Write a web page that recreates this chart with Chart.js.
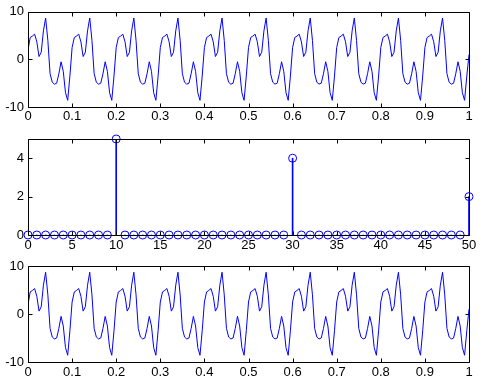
<!DOCTYPE html>
<html>
<head>
<meta charset="utf-8">
<script src="https://cdn.jsdelivr.net/npm/chart.js@4"></script>
<style>
  html, body { margin: 0; padding: 0; background: #fff; }
  body { width: 486px; height: 385px; position: relative; overflow: hidden; }
  canvas { position: absolute; left: 0; }
</style>
</head>
<body>
<canvas id="sig" width="486" height="125" style="top:0px"></canvas>
<canvas id="spec" width="486" height="130" style="top:125px"></canvas>
<canvas id="rec" width="486" height="135" style="top:250px"></canvas>
<script>
// tick labels
const timeTicks = [0, 0.1, 0.2, 0.3, 0.4, 0.5, 0.6, 0.7, 0.8, 0.9, 1];
const ampTicks = [-10, 0, 10];
const freqTicks = [0, 5, 10, 15, 20, 25, 30, 35, 40, 45, 50];
const magTicks = [0, 2, 4];

const signal = [
  2.0, 4.6, 4.9, 5.3, 3.7, 0.6, 1.5, 6.0, 8.7, 4.0, -3.0, -4.8, -5.2, -5.0, -3.0, -0.5, -2.5, -7.0, -8.6, -3.5,
  2.5, 4.6, 4.9, 5.3, 3.7, 0.6, 1.5, 6.0, 8.7, 4.0, -3.0, -4.8, -5.2, -5.0, -3.0, -0.5, -2.5, -7.0, -8.6, -3.5,
  2.5, 4.6, 4.9, 5.3, 3.7, 0.6, 1.5, 6.0, 8.7, 4.0, -3.0, -4.8, -5.2, -5.0, -3.0, -0.5, -2.5, -7.0, -8.6, -3.5,
  2.5, 4.6, 4.9, 5.3, 3.7, 0.6, 1.5, 6.0, 8.7, 4.0, -3.0, -4.8, -5.2, -5.0, -3.0, -0.5, -2.5, -7.0, -8.6, -3.5,
  2.5, 4.6, 4.9, 5.3, 3.7, 0.6, 1.5, 6.0, 8.7, 4.0, -3.0, -4.8, -5.2, -5.0, -3.0, -0.5, -2.5, -7.0, -8.6, -3.5,
  2.5, 4.6, 4.9, 5.3, 3.7, 0.6, 1.5, 6.0, 8.7, 4.0, -3.0, -4.8, -5.2, -5.0, -3.0, -0.5, -2.5, -7.0, -8.6, -3.5,
  2.5, 4.6, 4.9, 5.3, 3.7, 0.6, 1.5, 6.0, 8.7, 4.0, -3.0, -4.8, -5.2, -5.0, -3.0, -0.5, -2.5, -7.0, -8.6, -3.5,
  2.5, 4.6, 4.9, 5.3, 3.7, 0.6, 1.5, 6.0, 8.7, 4.0, -3.0, -4.8, -5.2, -5.0, -3.0, -0.5, -2.5, -7.0, -8.6, -3.5,
  2.5, 4.6, 4.9, 5.3, 3.7, 0.6, 1.5, 6.0, 8.7, 4.0, -3.0, -4.8, -5.2, -5.0, -3.0, -0.5, -2.5, -7.0, -8.6, -3.5,
  2.5, 4.6, 4.9, 5.3, 3.7, 0.6, 1.5, 6.0, 8.7, 4.0, -3.0, -4.8, -5.2, -5.0, -3.0, -0.5, -2.5, -7.0, -8.6, -3.5,
  1.0
];
const recovered = signal; // bottom plot looks identical to the top one

const freqs = [
  0, 1, 2, 3, 4, 5, 6, 7, 8, 9, 10, 11, 12, 13, 14, 15, 16, 17, 18, 19, 20, 21, 22, 23, 24, 25,
  26, 27, 28, 29, 30, 31, 32, 33, 34, 35, 36, 37, 38, 39, 40, 41, 42, 43, 44, 45, 46, 47, 48, 49, 50
];
const mags = [
  0, 0, 0, 0, 0, 0, 0, 0, 0, 0, 5, 0, 0, 0, 0, 0, 0, 0, 0, 0, 0, 0, 0, 0, 0, 0,
  0, 0, 0, 0, 4, 0, 0, 0, 0, 0, 0, 0, 0, 0, 0, 0, 0, 0, 0, 0, 0, 0, 0, 0, 2
];

const times = signal.map((_, i) => i / 200);

Chart.defaults.font.family = '"Liberation Sans", Arial, sans-serif';
Chart.defaults.font.size = 13;
Chart.defaults.color = '#000';

// box round the plot area with inward ticks on every side
const matlabBox = {
  id: 'matlabBox',
  afterDraw(chart) {
    const { ctx, chartArea: a, scales } = chart;
    const L = Math.round(a.left) + 0.5, R = Math.round(a.right) + 0.5;
    const T = Math.round(a.top) + 0.5, B = Math.round(a.bottom) + 0.5;
    ctx.save();
    ctx.strokeStyle = '#000';
    ctx.lineWidth = 1;
    ctx.beginPath();
    ctx.rect(L, T, R - L, B - T);
    scales.x.ticks.forEach(t => {
      const px = Math.round(scales.x.getPixelForValue(t.value)) + 0.5;
      ctx.moveTo(px, B); ctx.lineTo(px, B - 4);
      ctx.moveTo(px, T); ctx.lineTo(px, T + 4);
    });
    scales.y.ticks.forEach(t => {
      const py = Math.round(scales.y.getPixelForValue(t.value)) + 0.5;
      ctx.moveTo(L, py); ctx.lineTo(L + 4, py);
      ctx.moveTo(R, py); ctx.lineTo(R - 4, py);
    });
    ctx.stroke();
    ctx.restore();
  }
};

function makeScales(xMin, xMax, xTicks, yMin, yMax, yTicks, xHeight, xPad) {
  return {
    x: {
      type: 'linear', min: xMin, max: xMax, offset: false,
      grid: { display: false, drawTicks: false }, border: { display: false },
      ticks: { padding: xPad, maxRotation: 0, autoSkip: false, callback: v => String(v) },
      afterBuildTicks: s => { s.ticks = xTicks.map(v => ({ value: v })); },
      afterFit: s => { s.height = xHeight; }
    },
    y: {
      type: 'linear', min: yMin, max: yMax,
      grid: { display: false, drawTicks: false }, border: { display: false },
      ticks: { padding: 4, autoSkip: false, callback: v => String(v) },
      afterBuildTicks: s => { s.ticks = yTicks.map(v => ({ value: v })); },
      afterFit: s => { s.width = 28; }
    }
  };
}

function baseOptions(top, scales) {
  return {
    responsive: false,
    animation: false,
    layout: { padding: { top: top, right: 17, left: 0, bottom: 0 } },
    plugins: { legend: { display: false }, tooltip: { enabled: false } },
    scales: scales
  };
}

function wavePlot(id, values, top, xHeight, xPad) {
  new Chart(document.getElementById(id), {
    type: 'line',
    data: {
      datasets: [{
        data: times.map((t, i) => ({ x: t, y: values[i] })),
        borderColor: '#0000ff',
        borderWidth: 1,
        pointRadius: 0,
        tension: 0
      }]
    },
    options: baseOptions(top, makeScales(0, 1, timeTicks, -10, 10, ampTicks, xHeight, xPad)),
    plugins: [matlabBox]
  });
}

wavePlot('sig', signal, 11, 18, 2);

const stemPoints = freqs.map((f, i) => ({ x: f, y: mags[i] }));
new Chart(document.getElementById('spec'), {
  type: 'bar',
  data: {
    datasets: [
      {
        type: 'line',
        data: stemPoints,
        showLine: false,
        pointRadius: 4,
        pointBorderWidth: 1,
        pointBorderColor: '#0000ff',
        pointBackgroundColor: 'rgba(0,0,0,0)',
        clip: false
      },
      {
        type: 'bar',
        data: stemPoints,
        backgroundColor: '#0000ff',
        borderWidth: 0,
        barThickness: 1
      }
    ]
  },
  options: baseOptions(14, makeScales(0, 50, freqTicks, 0, 5, magTicks, 20, 3)),
  plugins: [matlabBox]
});

wavePlot('rec', recovered, 16, 23, 3);
</script>
</body>
</html>
